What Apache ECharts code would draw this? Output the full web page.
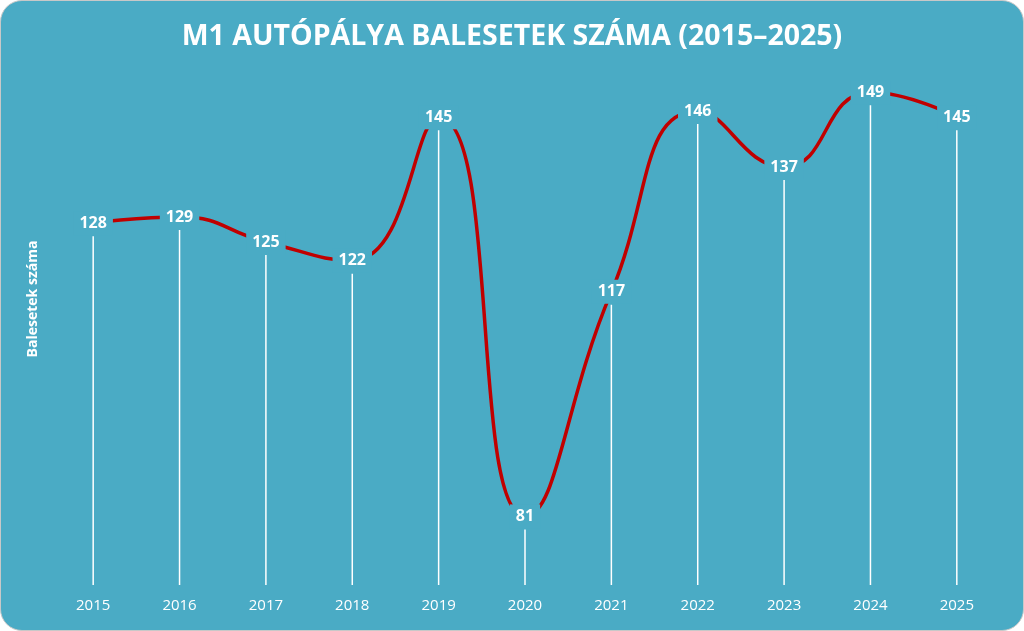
<!DOCTYPE html>
<html>
<head>
<meta charset="utf-8">
<script src="https://cdn.jsdelivr.net/npm/echarts@6/dist/echarts.min.js"></script>
<style>
html, body { margin: 0; padding: 0; background: #ffffff; }
#chart {
    position: absolute; left: 0; top: 0;
    width: 1022px; height: 629px;
    background: #4aabc5;
    border: 1px solid #c8c8c8;
    border-radius: 22px;
    overflow: hidden;
}
</style>
</head>
<body>
<div id="chart"></div>
<script>
var years = ['2015', '2016', '2017', '2018', '2019', '2020', '2021', '2022', '2023', '2024', '2025'];
var accidents = [128, 129, 125, 122, 145, 81, 117, 146, 137, 149, 145];
var yMin = 70;
var yMax = 150;
var bg = '#4aabc5';

var chart = echarts.init(document.getElementById('chart'), null, { renderer: 'canvas' });

var option = {
    backgroundColor: 'transparent',
    title: {
        text: 'M1 AUTÓPÁLYA BALESETEK SZÁMA (2015–2025)',
        left: 'center',
        top: 16,
        textStyle: {
            color: '#ffffff',
            fontFamily: 'Open Sans',
            fontWeight: 'bold',
            fontSize: 28.5
        }
    },
    // y axis title sits above the grid centre in the original, so place it by hand
    graphic: [{
        type: 'text',
        x: 32,
        y: 298,
        rotation: Math.PI / 2,
        style: {
            text: 'Balesetek száma',
            fill: '#ffffff',
            font: 'bold 14px "Open Sans"',
            align: 'center',
            verticalAlign: 'middle'
        }
    }],
    grid: {
        left: 49,
        right: 23,
        top: 85,
        bottom: 45
    },
    xAxis: {
        type: 'category',
        data: years,
        boundaryGap: true,
        axisLine: { show: false },
        axisTick: { show: false },
        axisLabel: {
            color: '#ffffff',
            fontFamily: 'Open Sans',
            fontSize: 15,
            margin: 13
        },
        splitLine: { show: false }
    },
    yAxis: {
        type: 'value',
        min: yMin,
        max: yMax,
        axisLine: { show: false },
        axisTick: { show: false },
        axisLabel: { show: false },
        splitLine: { show: false }
    },
    series: [{
        type: 'custom',
        z: 1,
        silent: true,
        renderItem: function(params, api) {
            var top = api.coord([api.value(0), api.value(1)]);
            var bottom = api.coord([api.value(0), yMin]);
            return {
                type: 'line',
                shape: { x1: top[0], y1: top[1] + 13, x2: bottom[0], y2: bottom[1] },
                style: { stroke: '#ffffff', lineWidth: 1.5 }
            };
        },
        data: years.map(function(y, i) { return [i, accidents[i]]; })
    }, {
        type: 'line',
        z: 2,
        data: accidents,
        smooth: 0.5,
        symbol: 'none',
        lineStyle: { color: '#c00000', width: 3.5 }
    }, {
        // value labels, boxed in the background colour so the line breaks around them
        type: 'scatter',
        z: 3,
        silent: true,
        data: accidents,
        symbolSize: 2,
        itemStyle: { color: bg, opacity: 1 },
        label: {
            show: true,
            position: 'inside',
            color: '#ffffff',
            textBorderWidth: 0,
            fontFamily: 'Open Sans',
            fontWeight: 'bold',
            fontSize: 16,
            backgroundColor: bg,
            padding: [4, 6]
        }
    }]
};

chart.setOption(option);
</script>
</body>
</html>
